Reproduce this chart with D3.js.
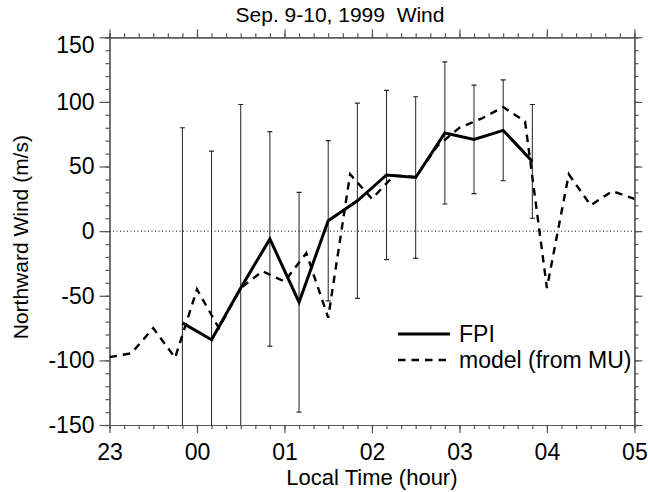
<!DOCTYPE html>
<html>
<head>
<meta charset="utf-8">
<script src="https://cdn.jsdelivr.net/npm/d3@7"></script>
<style>
  body { margin: 0; background: #fff; }
  svg { display: block; font-family: "Liberation Sans", Arial, sans-serif; }
  text { white-space: pre; }
</style>
</head>
<body>
<svg id="chart" width="648" height="492"></svg>
<script>
// FPI northward wind, every 20 min
var fpiTimes = ["23:50","00:10","00:30","00:50","01:10","01:30","01:50","02:10","02:30","02:50","03:10","03:30","03:50"];
var fpiWind  = [-71, -84, -44, -6, -55, 8, 23.5, 43.5, 41.5, 76, 71, 78, 54];
var fpiError = [151, 146, 142, 83, 85, 62, 75.5, 65.5, 62.5, 55, 42, 39, 44];

// model (from MU radar), every 15 min
var modelTimes = ["23:00","23:15","23:30","23:45","00:00","00:15","00:30","00:45","01:00","01:15","01:30","01:45",
                  "02:00","02:15","02:30","02:45","03:00","03:15","03:30","03:45","04:00","04:15","04:30","04:45","05:00"];
var modelWind  = [-97.5, -94.5, -75, -98, -45, -75, -44, -31, -39, -17, -67, 44,
                  25, 43, 42, 66, 80, 87, 96, 85, -44, 44, 20, 31, 25];

var xTickLabels = ["23","00","01","02","03","04","05"];
var yTickValues = [-150, -100, -50, 0, 50, 100, 150];

// hours counted from 23:00
function toHours(s) {
  var h = +s.slice(0,2), m = +s.slice(3);
  h = h >= 23 ? h - 23 : h + 1;
  return h + m/60;
}

var svg = d3.select('#chart');
var margin = {top: 37.3, right: 13.6, bottom: 67, left: 109.5};
var width = +svg.attr('width'), height = +svg.attr('height');
var innerWidth = width - margin.left - margin.right;
var innerHeight = height - margin.top - margin.bottom;
var axisColor = "#555";

var x = d3.scaleLinear().domain([0, 6]).range([0, innerWidth]);
var y = d3.scaleLinear().domain([-150, 150]).range([innerHeight, 0]);

var g = svg.append("g")
  .attr("transform", "translate(" + margin.left + "," + margin.top + ")");

g.append("clipPath").attr("id", "plotclip")
  .append("rect").attr("width", innerWidth).attr("height", innerHeight);

var minorX = d3.range(0, 37).map(function(i) { return i/6; });
var minorY = d3.range(-150, 151, 10);

function styleAxis(sel) {
  sel.selectAll("path, line").attr("stroke", axisColor).attr("stroke-width", 1.2);
  sel.selectAll("text").attr("fill", "#000").attr("font-size", "23px")
    .attr("font-family", "'Liberation Sans', Arial, sans-serif");
}
function noLabels(sel) {
  sel.selectAll("text").remove();
}

// minor ticks
g.append("g").attr("transform", "translate(0," + innerHeight + ")")
  .call(d3.axisBottom(x).tickValues(minorX).tickSize(4))
  .call(noLabels).call(styleAxis);
g.append("g")
  .call(d3.axisTop(x).tickValues(minorX).tickSize(4))
  .call(noLabels).call(styleAxis);
g.append("g")
  .call(d3.axisLeft(y).tickValues(minorY).tickSize(4))
  .call(noLabels).call(styleAxis);
g.append("g").attr("transform", "translate(" + innerWidth + ",0)")
  .call(d3.axisRight(y).tickValues(minorY).tickSize(4))
  .call(noLabels).call(styleAxis);

// major ticks
g.append("g").attr("transform", "translate(0," + innerHeight + ")")
  .call(d3.axisBottom(x).tickValues(d3.range(0, 7)).tickSize(8).tickSizeOuter(0).tickPadding(11)
    .tickFormat(function(d, i) { return xTickLabels[i]; }))
  .call(styleAxis);
g.append("g")
  .call(d3.axisTop(x).tickValues(d3.range(0, 7)).tickSize(8).tickSizeOuter(0))
  .call(noLabels).call(styleAxis);
g.append("g")
  .call(d3.axisLeft(y).tickValues(yTickValues).tickSize(10).tickSizeOuter(0).tickPadding(5)
    .tickFormat(function(d) { return String(d); }))
  .call(styleAxis)
  .call(function(a) { a.selectAll(".tick text").filter(function(d) { return d === 150; }).attr("dy", "0.65em"); });
g.append("g").attr("transform", "translate(" + innerWidth + ",0)")
  .call(d3.axisRight(y).tickValues(yTickValues).tickSize(8).tickSizeOuter(0))
  .call(noLabels).call(styleAxis);

// zero line
g.append("line")
  .attr("x1", 0).attr("x2", innerWidth)
  .attr("y1", y(0)).attr("y2", y(0))
  .attr("stroke", "#000").attr("stroke-width", 1)
  .attr("stroke-dasharray", "1,2.5");

var plot = g.append("g").attr("clip-path", "url(#plotclip)");

// error bars
var bars = plot.selectAll(".err")
  .data(fpiTimes)
  .enter().append("g").attr("class", "err");
bars.append("line")
  .attr("x1", function(d) { return x(toHours(d)); })
  .attr("x2", function(d) { return x(toHours(d)); })
  .attr("y1", function(d, i) { return y(fpiWind[i] + fpiError[i]); })
  .attr("y2", function(d, i) { return y(fpiWind[i] - fpiError[i]); })
  .attr("stroke", "#222").attr("stroke-width", 1);
[1, -1].forEach(function(s) {
  bars.append("line")
    .attr("x1", function(d) { return x(toHours(d)) - 2.5; })
    .attr("x2", function(d) { return x(toHours(d)) + 2.5; })
    .attr("y1", function(d, i) { return y(fpiWind[i] + s*fpiError[i]); })
    .attr("y2", function(d, i) { return y(fpiWind[i] + s*fpiError[i]); })
    .attr("stroke", "#222").attr("stroke-width", 1.2);
});

// model line
var modelLine = d3.line()
  .x(function(d) { return x(toHours(d)); })
  .y(function(d, i) { return y(modelWind[i]); });
plot.append("path")
  .datum(modelTimes)
  .attr("d", modelLine)
  .attr("fill", "none").attr("stroke", "#000")
  .attr("stroke-width", 2.4).attr("stroke-dasharray", "7.5,6");

// FPI line
var fpiLine = d3.line()
  .x(function(d) { return x(toHours(d)); })
  .y(function(d, i) { return y(fpiWind[i]); });
plot.append("path")
  .datum(fpiTimes)
  .attr("d", fpiLine)
  .attr("fill", "none").attr("stroke", "#000")
  .attr("stroke-width", 3).attr("stroke-linejoin", "miter");

// legend
var legend = svg.append("g").attr("transform", "translate(398,334)");
legend.append("line").attr("x1", 0).attr("x2", 52).attr("y1", 0).attr("y2", 0)
  .attr("stroke", "#000").attr("stroke-width", 3);
legend.append("text").attr("x", 61).attr("y", 8).attr("font-size", "23px").text("FPI");
legend.append("line").attr("x1", 0).attr("x2", 52).attr("y1", 26).attr("y2", 26)
  .attr("stroke", "#000").attr("stroke-width", 2.4).attr("stroke-dasharray", "7.5,6");
legend.append("text").attr("x", 61).attr("y", 34).attr("font-size", "23px").text("model (from MU)");

// titles
svg.append("text")
  .attr("x", 340).attr("y", 22)
  .attr("text-anchor", "middle").attr("font-size", "21px")
  .text("Sep. 9-10, 1999  Wind");

svg.append("text")
  .attr("x", margin.left + innerWidth/2).attr("y", 485)
  .attr("text-anchor", "middle").attr("font-size", "22px")
  .text("Local Time (hour)");

svg.append("text")
  .attr("transform", "rotate(-90)")
  .attr("x", -(margin.top + innerHeight/2 + 6)).attr("y", 28)
  .attr("text-anchor", "middle").attr("font-size", "21px")
  .text("Northward Wind (m/s)");
</script>
</body>
</html>
